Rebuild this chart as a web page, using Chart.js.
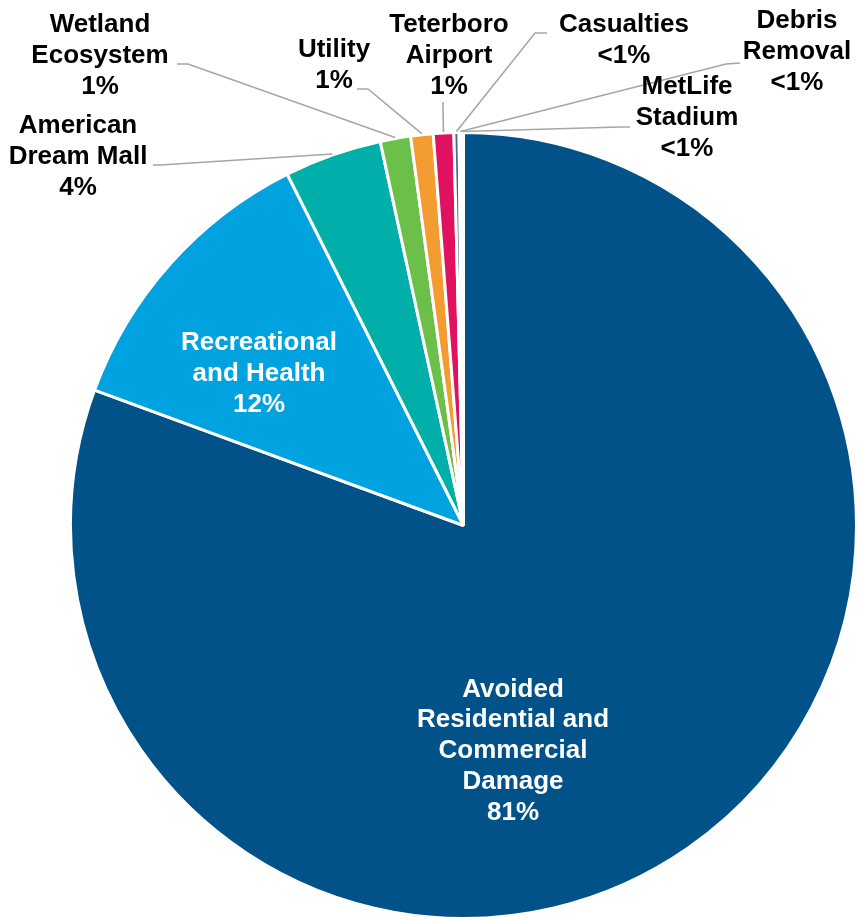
<!DOCTYPE html>
<html>
<head>
<meta charset="utf-8">
<title>Benefit Breakdown</title>
<script src="https://cdn.jsdelivr.net/npm/chart.js@4.4.0/dist/chart.umd.min.js"></script>
<style>
    html, body { margin: 0; padding: 0; overflow: hidden; background: #fff; }
    .chart-box { position: relative; width: 858px; height: 920px; }
</style>
</head>
<body>
<div class="chart-box"><canvas id="benefit-pie"></canvas></div>
<script>
// Benefit categories (wrapped the way they are printed) and their shares in percent
const categories = [
    ['Avoided', 'Residential and', 'Commercial', 'Damage'],
    ['Recreational', 'and Health'],
    ['American', 'Dream Mall'],
    ['Wetland', 'Ecosystem'],
    ['Utility'],
    ['Teterboro', 'Airport'],
    ['Casualties'],
    ['Debris', 'Removal'],
    ['MetLife', 'Stadium']
];
const shares = [80.6, 12.0, 4.0, 1.25, 0.92, 0.84, 0.21, 0.10, 0.08];

const sliceColors = ['#005288', '#00A3E0', '#00AFA9', '#6CC04A', '#F39C32', '#E0115F', '#4A6886', '#7F7F7F', '#A5A5A5'];

// Where each label block sits, and the bend points of its leader line (if any)
const labelLayout = [
    { x: 513, y: 751, color: '#fff' },
    { x: 259, y: 374, color: '#fff' },
    { x: 78, y: 157, color: '#000', leader: [[153, 165], [160, 165]] },
    { x: 100, y: 56, color: '#000', leader: [[177, 64], [188, 64]] },
    { x: 334, y: 65, color: '#000', leader: [[357, 89], [368, 89]] },
    { x: 449, y: 56, color: '#000', leader: [[443, 102], [443, 104]] },
    { x: 624, y: 40, color: '#000', leader: [[547, 33], [535, 33]] },
    { x: 797, y: 52, color: '#000', leader: [[740, 63], [726, 64]] },
    { x: 687, y: 118, color: '#000', leader: [[630, 127], [620, 127]] }
];

const LINE_HEIGHT = 30.7;
const FONT = 'bold 26px "Liberation Sans", Arial, sans-serif';

function pctText(v) {
    const r = Math.round(v);
    return r >= 1 ? r + '%' : '<1%';
}

// Draws leader lines and the label blocks on top of the slices
const sliceLabels = {
    id: 'sliceLabels',
    afterDatasetsDraw(chart) {
        const ctx = chart.ctx;
        const arcs = chart.getDatasetMeta(0).data;
        ctx.save();

        ctx.strokeStyle = '#A6A6A6';
        ctx.lineWidth = 1.6;
        arcs.forEach((arc, i) => {
            const lay = labelLayout[i];
            if (!lay.leader) return;
            const mid = (arc.startAngle + arc.endAngle) / 2;
            const r = arc.outerRadius + 1;
            const ex = arc.x + Math.cos(mid) * r;
            const ey = arc.y + Math.sin(mid) * r;
            ctx.beginPath();
            ctx.moveTo(lay.leader[0][0], lay.leader[0][1]);
            ctx.lineTo(lay.leader[1][0], lay.leader[1][1]);
            ctx.lineTo(ex, ey);
            ctx.stroke();
        });

        ctx.font = FONT;
        ctx.textAlign = 'center';
        ctx.textBaseline = 'middle';
        categories.forEach((lines, i) => {
            const lay = labelLayout[i];
            const all = lines.concat([pctText(shares[i])]);
            const top = lay.y - (all.length - 1) * LINE_HEIGHT / 2;
            ctx.fillStyle = lay.color;
            all.forEach((t, k) => ctx.fillText(t, lay.x, top + k * LINE_HEIGHT));
        });

        ctx.restore();
    }
};

new Chart(document.getElementById('benefit-pie'), {
    type: 'pie',
    data: {
        labels: categories.map(c => c.join(' ')),
        datasets: [{
            data: shares,
            backgroundColor: sliceColors,
            borderColor: '#FFFFFF',
            borderWidth: 3
        }]
    },
    options: {
        responsive: true,
        maintainAspectRatio: false,
        animation: false,
        layout: { padding: { left: 69, right: 0, top: 131, bottom: 0 } },
        plugins: {
            legend: { display: false },
            tooltip: { enabled: false }
        }
    },
    plugins: [sliceLabels]
});
</script>
</body>
</html>
